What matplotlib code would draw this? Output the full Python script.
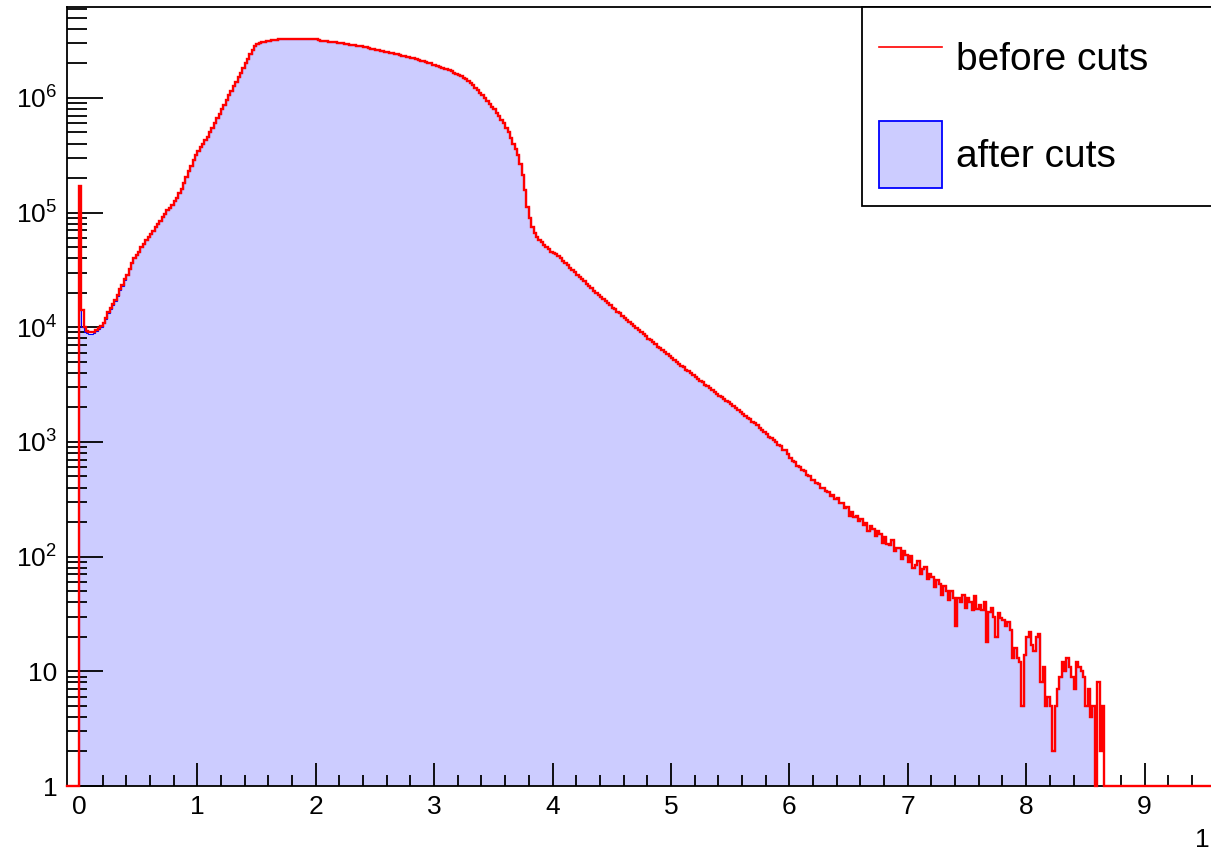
"""
Log-scale spectrum before and after event selection.
"""
import matplotlib.pyplot as plt
import numpy as np
from matplotlib.lines import Line2D
from matplotlib.patches import Patch
from matplotlib.ticker import (FixedFormatter, FixedLocator, LogLocator,
                               MultipleLocator, NullFormatter)

plt.rcParams['font.family'] = 'Liberation Sans'
plt.rcParams['mathtext.fontset'] = 'custom'
plt.rcParams['mathtext.rm'] = 'Liberation Sans'
plt.rcParams['mathtext.it'] = 'Liberation Sans:italic'

# histogram binning (bins start at 0)
bin_width = 0.02

# bin contents before cuts, 10 bins (0.2) per row
before_cuts = [
    170000, 14000, 10000, 9200, 9000, 9000, 9100, 9400, 9800, 10300,                      # 0.0
    11000, 12000, 13500, 14800, 15800, 17400, 19000, 21400, 23400, 26300,                 # 0.2
    28800, 32400, 36300, 39800, 42700, 45700, 50100, 53700, 57500, 61700,                 # 0.4
    64600, 69200, 74100, 79400, 85100, 91200, 97700, 105000, 110000, 117000,              # 0.6
    126000, 135000, 148000, 162000, 182000, 204000, 229000, 257000, 288000, 316000,       # 0.8
    347000, 372000, 398000, 427000, 457000, 501000, 550000, 603000, 661000, 724000,       # 1.0
    794000, 871000, 955000, 1050000, 1150000, 1260000, 1380000, 1510000, 1660000, 1820000,
    2000000, 2190000, 2400000, 2630000, 2820000, 2950000, 3020000, 3050000, 3090000, 3130000,
    3150000, 3180000, 3200000, 3220000, 3230000, 3240000, 3250000, 3250000, 3260000, 3260000,
    3260000, 3260000, 3260000, 3260000, 3250000, 3250000, 3250000, 3240000, 3240000, 3240000,
    3240000, 3200000, 3160000, 3160000, 3130000, 3090000, 3090000, 3050000, 3050000, 3020000,  # 2.0
    3020000, 2990000, 2950000, 2950000, 2920000, 2880000, 2880000, 2850000, 2820000, 2820000,
    2790000, 2750000, 2720000, 2690000, 2660000, 2630000, 2600000, 2570000, 2540000, 2510000,
    2510000, 2480000, 2450000, 2430000, 2400000, 2370000, 2340000, 2320000, 2290000, 2260000,
    2240000, 2210000, 2190000, 2140000, 2110000, 2090000, 2040000, 2020000, 2000000, 1950000,
    1930000, 1910000, 1860000, 1840000, 1800000, 1780000, 1740000, 1700000, 1660000, 1620000,  # 3.0
    1580000, 1550000, 1500000, 1450000, 1410000, 1350000, 1290000, 1230000, 1160000, 1100000,
    1050000, 989000, 933000, 881000, 832000, 794000, 741000, 692000, 646000, 603000,
    550000, 501000, 447000, 398000, 355000, 316000, 263000, 214000, 158000, 112000,
    89100, 74100, 66100, 61700, 57500, 55000, 52500, 50100, 47900, 45700,
    44700, 43700, 41700, 39800, 38000, 36300, 34700, 33100, 31600, 30200,                 # 4.0
    28800, 27500, 26300, 25100, 24000, 22900, 21900, 20900, 20000, 19100,
    18200, 17600, 16800, 16200, 15500, 14800, 14300, 13600, 13200, 12600,
    12000, 11600, 11200, 10700, 10200, 9770, 9440, 9020, 8710, 8320,
    7940, 7670, 7410, 7080, 6760, 6530, 6310, 6030, 5820, 5620,
    5370, 5190, 5010, 4790, 4620, 4470, 4270, 4120, 3980, 3800,                           # 5.0
    3670, 3550, 3430, 3310, 3160, 3050, 2950, 2850, 2750, 2630,
    2540, 2450, 2370, 2290, 2210, 2140, 2040, 1970, 1910, 1840,
    1760, 1700, 1620, 1570, 1480, 1450, 1400, 1320, 1270, 1230,
    1170, 1110, 1090, 1030, 990, 940, 925, 850, 845, 780,
    730, 680, 668, 622, 610, 566, 556, 515, 508, 470,                                     # 6.0
    468, 436, 433, 398, 400, 372, 368, 340, 346, 316,
    322, 292, 296, 266, 270, 226, 246, 222, 226, 204,
    212, 190, 198, 168, 186, 174, 150, 166, 158, 132,
    148, 130, 126, 140, 112, 120, 118, 96, 112, 104,
    90, 102, 80, 84, 92, 70, 78, 82, 64, 70,                                              # 7.0
    66, 54, 62, 58, 46, 56, 50, 42, 50, 44,
    25, 44, 40, 46, 36, 44, 40, 34, 45, 35,
    38, 34, 40, 18, 33, 36, 30, 20, 32, 29,
    28, 25, 27, 23, 13, 16, 13, 12, 5, 14,
    20, 22, 17, 15, 20, 21, 8, 11, 5, 6,                                                  # 8.0
    5, 2, 5, 7, 9, 12, 10, 13, 11, 9,
    7, 12, 11, 10, 9, 5, 7, 4, 5, 1,
    8, 2, 5,
]

# after cuts: the first bins lose the spike at 0, the rest follows before_cuts
after_cuts_head = [14000, 10000, 9000, 8900, 8800, 8800, 8900, 9200, 9600, 10100,
                   10800, 11800, 13200, 14500, 15500, 17000, 18600, 21000, 23000, 26000]
after_cuts_nbins = 429

x_range = (-0.1, 10.0)
x_tick_values = list(range(10))
y_range = (1, 6.2e6)
y_tick_values = [1, 10, 1e2, 1e3, 1e4, 1e5, 1e6]
y_tick_labels = ['1', '10', '$10^{2}$', '$10^{3}$', '$10^{4}$', '$10^{5}$', '$10^{6}$']
legend_labels = ['before cuts', 'after cuts']

fill_color = '#ccccff'

before = np.array(before_cuts, dtype=float)
after = np.zeros_like(before)
after[:len(after_cuts_head)] = after_cuts_head
after[len(after_cuts_head):after_cuts_nbins] = before[len(after_cuts_head):after_cuts_nbins]
edges = np.arange(len(before) + 1) * bin_width

W, H = 1211, 852
fig = plt.figure(figsize=(W / 100, H / 100), dpi=100)
ax = fig.add_axes([67 / W, 66 / H, 1196 / W, 779 / H])
ax.set_yscale('log')
ax.set_xlim(*x_range)
ax.set_ylim(*y_range)

# empty bins sit on the axis floor, as ROOT draws them
ax.stairs(np.maximum(after, 1), edges, baseline=1, fill=True, color=fill_color, zorder=1)
ax.stairs(np.maximum(after, 1), edges, baseline=1, color='blue', lw=0.8, zorder=2)
ax.stairs(np.maximum(before, 1), edges, baseline=1, color='red', lw=1.7, zorder=3, clip_on=False)
ax.plot([x_range[0], edges[0]], [1, 1], color='red', lw=1.7, zorder=3, clip_on=False)
ax.plot([edges[-1], x_range[1]], [1, 1], color='red', lw=1.7, zorder=3, clip_on=False)

for side in ['left', 'bottom', 'top', 'right']:
    ax.spines[side].set_linewidth(1.3)

ax.xaxis.set_major_locator(FixedLocator(x_tick_values))
ax.xaxis.set_minor_locator(MultipleLocator(0.2))
ax.yaxis.set_major_locator(FixedLocator(y_tick_values))
ax.yaxis.set_major_formatter(FixedFormatter(y_tick_labels))
ax.yaxis.set_minor_locator(LogLocator(base=10, subs=np.arange(2, 10), numticks=20))
ax.yaxis.set_minor_formatter(NullFormatter())

ax.tick_params(which='both', direction='in', top=False, right=False, width=1.3,
               labelsize=19, colors='black')
ax.tick_params(axis='x', which='major', length=16.5, pad=6.5)
ax.tick_params(axis='x', which='minor', length=8)
ax.tick_params(axis='y', which='major', length=26, pad=7)
ax.tick_params(axis='y', which='minor', length=14.5)

handles = [Line2D([], [], color='red', lw=1.2),
           Patch(facecolor=fill_color, edgecolor='blue', lw=1.3)]
leg = ax.legend(handles, legend_labels, loc='upper left', mode='expand',
                bbox_to_anchor=(862 / W, 0, 430 / W, 1 - 7 / H),
                bbox_transform=fig.transFigure, borderaxespad=0,
                fontsize=28, handlelength=1.62, handleheight=2.29,
                handletextpad=0.36, labelspacing=0.76, borderpad=0.44,
                fancybox=False, framealpha=1, edgecolor='black')
leg.get_frame().set_linewidth(1.3)

# axis exponent label in the lower right corner
fig.text(1 - 1 / W, 1 - 840 / H, '1', fontsize=19, ha='right', va='center')

fig.savefig('out.png', dpi=100, facecolor='white')
